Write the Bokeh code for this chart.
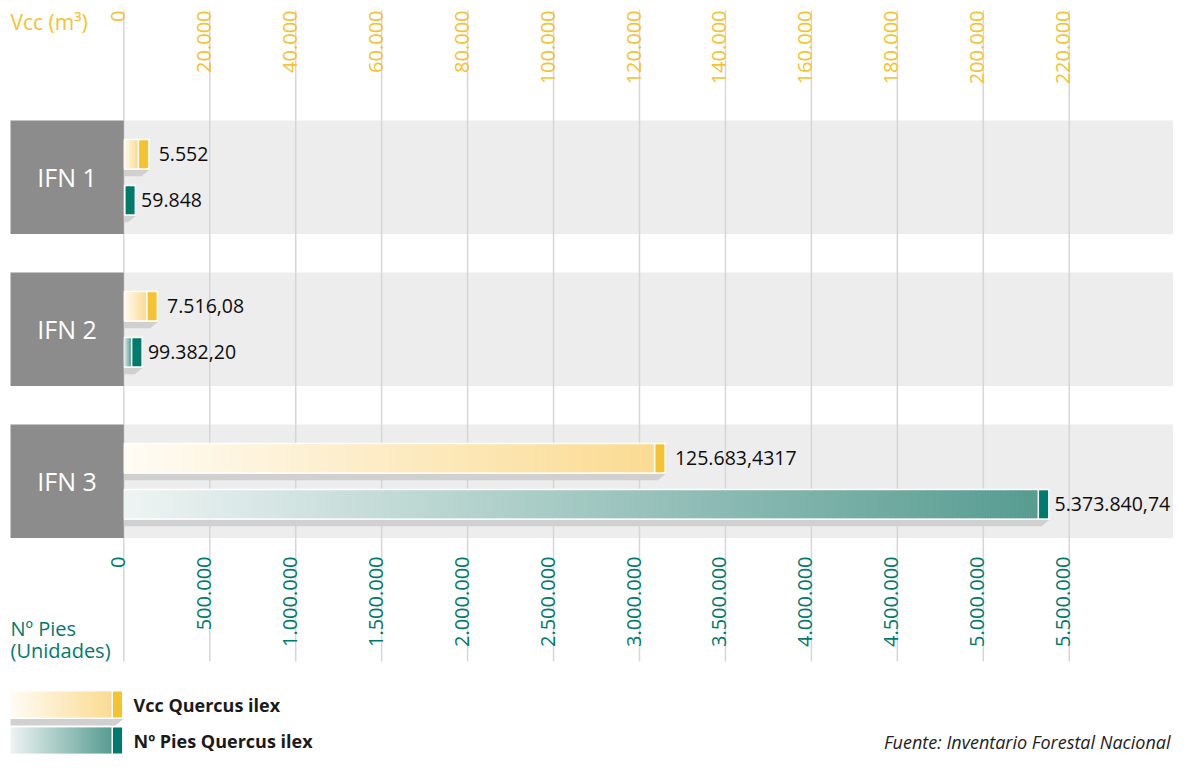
import numpy as np
from bokeh.plotting import figure
from bokeh.models import Range1d, ColumnDataSource
from bokeh.core.properties import value
from bokeh.embed import file_html
from bokeh.resources import INLINE

# ---------------- data ----------------
categories = ["IFN 1", "IFN 2", "IFN 3"]
vcc_values = [5552.0, 7516.08, 125683.4317]
vcc_labels = ["5.552", "7.516,08", "125.683,4317"]
pies_values = [59848.0, 99382.20, 5373840.74]
pies_labels = ["59.848", "99.382,20", "5.373.840,74"]
vcc_ticks = [0, 20000, 40000, 60000, 80000, 100000, 120000, 140000,
             160000, 180000, 200000, 220000]
pies_ticks = [0, 500000, 1000000, 1500000, 2000000, 2500000, 3000000,
              3500000, 4000000, 4500000, 5000000, 5500000]
vcc_title = "Vcc (m³)"
pies_title = ["Nº Pies", "(Unidades)"]
legend_labels = ["Vcc Quercus ilex", "Nº Pies Quercus ilex"]
source_text = "Fuente: Inventario Forestal Nacional"

# ---------------- layout / style ----------------
FONT = "Open Sans"
YELLOW = "#F5C232"
TEAL = "#007A6C"
VCC_GRAD = ("#FFFCF5", "#FADB92")
PIES_GRAD = ("#EEF4F3", "#579C91")
W, H = 1173, 755
ZERO_PX = 123.3
PX_PER_TICK = 85.95
U = pies_ticks[1] / PX_PER_TICK          # data units per pixel
RATIO = pies_ticks[-1] / vcc_ticks[-1]   # top axis -> bottom axis units


def X(px):
    return (px - ZERO_PX) * U


def Y(py):
    return -py


def fmt(v):
    return f"{v:,}".replace(",", ".")


def mix(c0, c1, t):
    a = [int(c0[i:i + 2], 16) for i in (1, 3, 5)]
    b = [int(c1[i:i + 2], 16) for i in (1, 3, 5)]
    return "#%02x%02x%02x" % tuple(int(round(a[k] + (b[k] - a[k]) * t)) for k in range(3))


p = figure(width=W, height=H, x_range=Range1d(X(0), X(W)),
           y_range=Range1d(Y(H), Y(0)), output_backend="svg",
           toolbar_location=None, min_border=0)
p.axis.visible = False
p.grid.visible = False
p.outline_line_color = None
p.background_fill_color = "white"
p.border_fill_color = "white"

BAND0, BAND_STEP, BAND_H = 176.8, 152.0, 113.5
centers = [BAND0 + BAND_STEP * i for i in range(len(categories))]

# bands
p.quad(left=[X(ZERO_PX)] * 3, right=[X(1180)] * 3,
       top=[Y(c - BAND_H / 2) for c in centers],
       bottom=[Y(c + BAND_H / 2) for c in centers],
       fill_color="#EDEDED", line_color=None)

# grid lines
grid_x = pies_ticks
p.segment(x0=grid_x, x1=grid_x, y0=[Y(10)] * len(grid_x), y1=[Y(661)] * len(grid_x),
          line_color="#D6D6D6", line_width=1.5)

# category boxes
p.quad(left=[X(10)] * 3, right=[X(ZERO_PX)] * 3,
       top=[Y(c - BAND_H / 2) for c in centers],
       bottom=[Y(c + BAND_H / 2) for c in centers],
       fill_color="#8C8C8C", line_color=None)
p.text(x=[X(66.5)] * 3, y=[Y(c) for c in centers], text=categories,
       text_color="white", text_font=value(FONT), text_font_size="25px",
       text_align="center", text_baseline="middle")

# ---------------- bars ----------------
shadow_xs, shadow_ys = [], []
white_q = dict(left=[], right=[], top=[], bottom=[])
grad_q = dict(left=[], right=[], top=[], bottom=[], color=[])
cap_q = dict(left=[], right=[], top=[], bottom=[], color=[])


def add_bar(left, end, cy, grad, cap_color, shadow=True, half=15.5):
    if shadow:
        shadow_xs.append([left, end + 2 * U, end - 6 * U, left])
        shadow_ys.append([Y(cy + half), Y(cy + half), Y(cy + half + 6.5), Y(cy + half + 6.5)])
    white_q["left"].append(left)
    white_q["right"].append(end + 2 * U)
    white_q["top"].append(Y(cy - half))
    white_q["bottom"].append(Y(cy + half))
    g_right = end - 10 * U
    if g_right > left + 0.5 * U:
        n = max(4, int((g_right - left) / U / 2.5))
        edges = np.linspace(left, g_right, n + 1)
        for k in range(n):
            grad_q["left"].append(edges[k])
            grad_q["right"].append(min(edges[k + 1] + 1.0 * U, g_right))
            grad_q["top"].append(Y(cy - half + 1.5))
            grad_q["bottom"].append(Y(cy + half - 1.5))
            grad_q["color"].append(mix(grad[0], grad[1], (k + 0.5) / n))
    cap_q["left"].append(max(end - 8.5 * U, left + 1.5 * U))
    cap_q["right"].append(end + 0.5 * U)
    cap_q["top"].append(Y(cy - half + 1.5))
    cap_q["bottom"].append(Y(cy + half - 1.5))
    cap_q["color"].append(cap_color)


lab_x, lab_y, lab_t = [], [], []
for i, c in enumerate(centers):
    v_end = vcc_values[i] * RATIO
    add_bar(0, v_end, c - 23, VCC_GRAD, YELLOW)
    lab_x.append(v_end + 11 * U)
    lab_y.append(Y(c - 23))
    lab_t.append(vcc_labels[i])
    p_end = pies_values[i]
    add_bar(0, p_end, c + 23, PIES_GRAD, TEAL)
    lab_x.append(p_end + 7 * U)
    lab_y.append(Y(c + 23))
    lab_t.append(pies_labels[i])

# legend swatches (same drawing style)
LEG_Y = [704.0, 740.0]
add_bar(X(10), X(121), LEG_Y[0], VCC_GRAD, YELLOW, shadow=True, half=14.5)
add_bar(X(10), X(121), LEG_Y[1], PIES_GRAD, TEAL, shadow=False, half=14.5)

p.patches(xs=shadow_xs, ys=shadow_ys, fill_color="#D0D0D0", line_color=None)
p.quad(source=ColumnDataSource(white_q), left="left", right="right", top="top",
       bottom="bottom", fill_color="white", line_color=None)
p.quad(source=ColumnDataSource(grad_q), left="left", right="right", top="top",
       bottom="bottom", fill_color="color", line_color=None)
p.quad(source=ColumnDataSource(cap_q), left="left", right="right", top="top",
       bottom="bottom", fill_color="color", line_color=None)

p.text(x=lab_x, y=lab_y, text=lab_t, text_color="#0D0D0D", text_font=value(FONT),
       text_font_size="19.5px", text_align="left", text_baseline="middle")

# ---------------- axes (tick labels) ----------------
top_x = [t * RATIO - 6 * U for t in vcc_ticks]
p.text(x=top_x, y=[Y(10)] * len(vcc_ticks), text=[fmt(t) for t in vcc_ticks],
       angle=np.pi / 2, text_color=YELLOW, text_font=value(FONT),
       text_font_size="20px", text_align="right", text_baseline="alphabetic")
bot_x = [t - 6 * U for t in pies_ticks]
p.text(x=bot_x, y=[Y(556)] * len(pies_ticks), text=[fmt(t) for t in pies_ticks],
       angle=np.pi / 2, text_color=TEAL, text_font=value(FONT),
       text_font_size="20px", text_align="right", text_baseline="alphabetic")

p.text(x=[X(10)], y=[Y(21)], text=[vcc_title], text_color=YELLOW,
       text_font=value(FONT), text_font_size="21px", text_align="left",
       text_baseline="middle")
p.text(x=[X(10)] * 2, y=[Y(628), Y(650)], text=pies_title, text_color=TEAL,
       text_font=value(FONT), text_font_size="20px", text_align="left",
       text_baseline="middle")

# legend text
p.text(x=[X(133)] * 2, y=[Y(v) for v in LEG_Y], text=legend_labels,
       text_color="#1A1A1A", text_font=value(FONT), text_font_size="18px",
       text_font_style="bold", text_align="left", text_baseline="middle")

# source
p.text(x=[X(1170)], y=[Y(741)], text=[source_text], text_color="#222222",
       text_font=value(FONT), text_font_size="18px", text_font_style="italic",
       text_align="right", text_baseline="middle")

open("out.html", "w").write(file_html(p, INLINE))
